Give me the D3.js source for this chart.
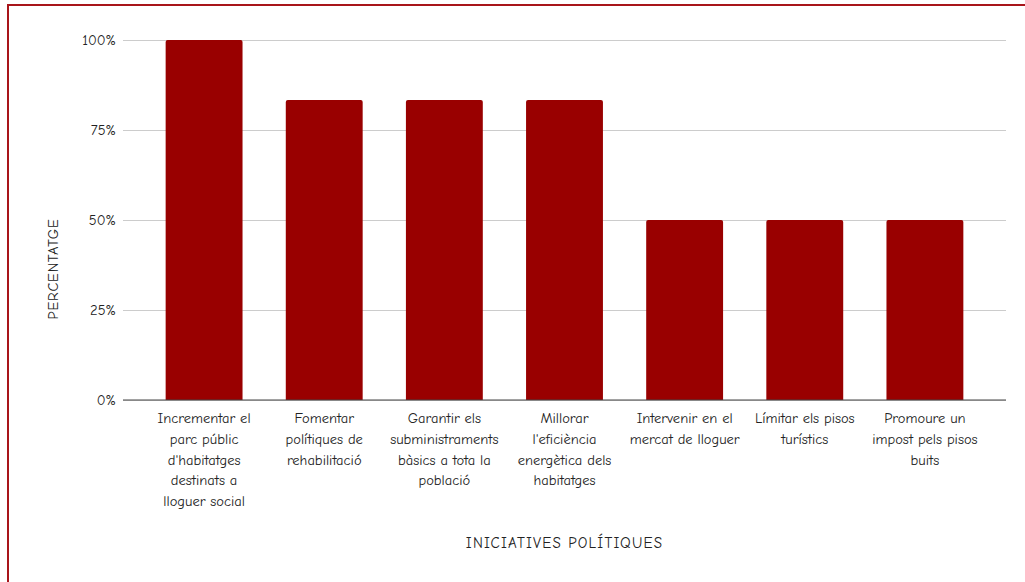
<!DOCTYPE html>
<html>
<head>
<meta charset="utf-8">
<script src="https://cdn.jsdelivr.net/npm/d3@7"></script>
<style>
  body { margin: 0; background: #fff; }
  svg { display: block; }
  text { font-family: "Comic Sans MS", "Comic Neue", "DejaVu Sans", sans-serif; fill: #222; }
</style>
</head>
<body>
<div id="chart"></div>
<script>
// chart data
var categories = [
  "Incrementar el\nparc públic\nd'habitatges\ndestinats a\nlloguer social",
  "Fomentar\npolítiques de\nrehabilitació",
  "Garantir els\nsubministraments\nbàsics a tota la\npoblació",
  "Millorar\nl'eficiència\nenergètica dels\nhabitatges",
  "Intervenir en el\nmercat de lloguer",
  "Límitar els pisos\nturístics",
  "Promoure un\nimpost pels pisos\nbuits"
];
var values = [100, 83.33, 83.33, 83.33, 50, 50, 50];
var yTicks = [0, 25, 50, 75, 100];
var xTitle = "INICIATIVES POLÍTIQUES";
var yTitle = "PERCENTATGE";

var width = 1025, height = 582;
var plotLeft = 123, plotRight = 1006, plotTop = 40, plotBottom = 400;

var svg = d3.select("#chart").append("svg")
  .attr("width", width)
  .attr("height", height);

svg.append("rect")
  .attr("width", width).attr("height", height)
  .attr("fill", "#fff");

// outer border (right/bottom run off the picture)
svg.append("rect")
  .attr("x", 8).attr("y", 5)
  .attr("width", width + 20).attr("height", height + 20)
  .attr("fill", "none")
  .attr("stroke", "#a8151a")
  .attr("stroke-width", 2);

var x = d3.scaleBand()
  .domain(d3.range(categories.length))
  .range([plotLeft, plotRight])
  .paddingInner(0.36)
  .paddingOuter(0.355);

var y = d3.scaleLinear()
  .domain([0, 100])
  .range([plotBottom, plotTop]);

// gridlines + tick labels
var yAxis = d3.axisLeft(y)
  .tickValues(yTicks)
  .tickSize(-(plotRight - plotLeft))
  .tickPadding(7)
  .tickFormat(function(d){ return d + "%"; });

var gy = svg.append("g")
  .attr("transform", "translate(" + plotLeft + ",0)")
  .call(yAxis);
gy.select(".domain").remove();
gy.selectAll(".tick line").attr("stroke", "#cccccc");
gy.selectAll(".tick text")
  .style("font-size", "14.5px")
  .attr("fill", "#222");

// bars with slightly rounded tops
function barPath(d, i){
  var x0 = x(i), w = x.bandwidth(), y0 = y(d), y1 = y(0), r = 2;
  return "M" + x0 + "," + y1 +
    "V" + (y0 + r) +
    "Q" + x0 + "," + y0 + " " + (x0 + r) + "," + y0 +
    "H" + (x0 + w - r) +
    "Q" + (x0 + w) + "," + y0 + " " + (x0 + w) + "," + (y0 + r) +
    "V" + y1 + "Z";
}

svg.append("g").selectAll("path")
  .data(values)
  .enter()
  .append("path")
    .attr("d", barPath)
    .attr("fill", "#990000");

// baseline
svg.append("line")
  .attr("x1", plotLeft).attr("x2", plotRight)
  .attr("y1", y(0)).attr("y2", y(0))
  .attr("stroke", "#444")
  .attr("stroke-width", 1);

// category labels
var xl = svg.append("g").selectAll("text")
  .data(categories)
  .enter()
  .append("text")
    .attr("text-anchor", "middle")
    .attr("x", function(d, i){ return x(i) + x.bandwidth() / 2; })
    .attr("y", plotBottom + 23)
    .style("font-size", "14.5px");
xl.each(function(d){
  var t = d3.select(this);
  d.split("\n").forEach(function(line, k){
    t.append("tspan")
      .attr("x", t.attr("x"))
      .attr("dy", k === 0 ? 0 : 20.8)
      .text(line);
  });
});

// axis titles
svg.append("text")
  .attr("x", (plotLeft + plotRight) / 2)
  .attr("y", 548)
  .attr("text-anchor", "middle")
  .style("font-size", "15px")
  .style("letter-spacing", "1.2px")
  .text(xTitle);

svg.append("text")
  .attr("transform", "translate(58," + ((plotTop + plotBottom) / 2 + 49) + ") rotate(-90)")
  .attr("text-anchor", "middle")
  .style("font-size", "14.5px")
  .style("letter-spacing", "0.8px")
  .text(yTitle);
</script>
</body>
</html>
